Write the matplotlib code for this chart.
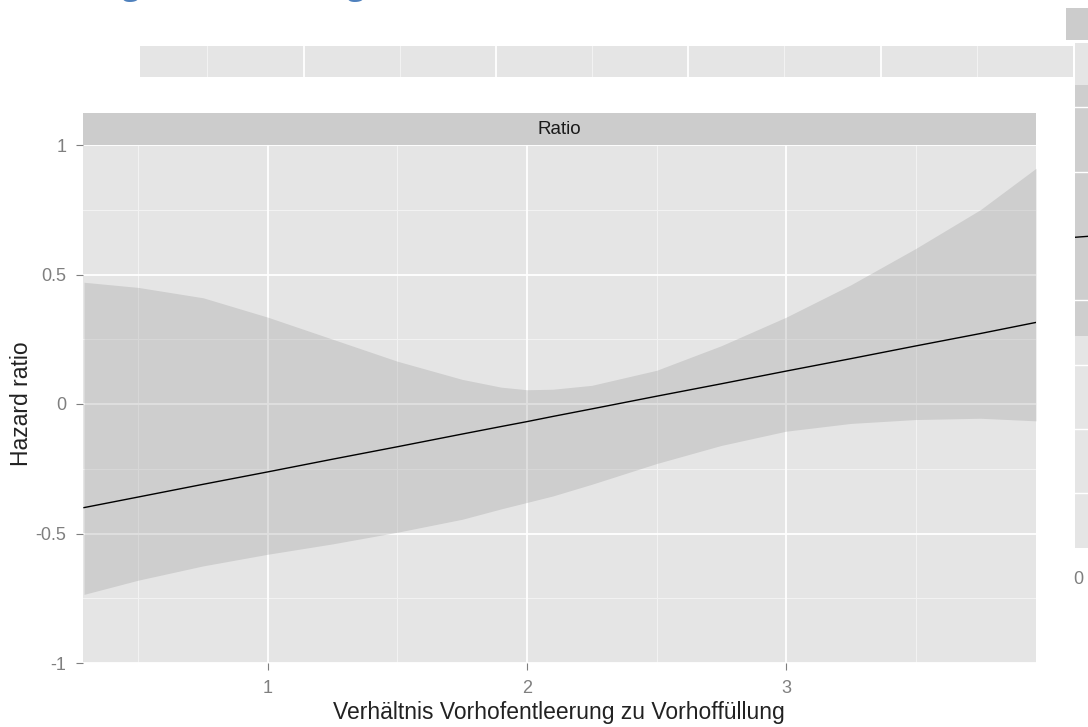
import matplotlib
matplotlib.use('Agg')
import matplotlib.pyplot as plt

plt.rcParams['font.family'] = ['Liberation Sans', 'DejaVu Sans']

W, H = 1088, 727

# smoothed hazard ratio estimate with confidence band
ratio_x = [0.29, 0.5, 0.75, 1.0, 1.25, 1.5, 1.75, 1.9, 2.0, 2.1, 2.25, 2.5, 2.75,
           3.0, 3.25, 3.5, 3.75, 3.965]
hr_fit = [-0.40, -0.359, -0.31, -0.262, -0.213, -0.165, -0.116, -0.087, -0.068, -0.048,
          -0.019, 0.03, 0.078, 0.127, 0.175, 0.224, 0.272, 0.315]
hr_upper = [0.47, 0.45, 0.41, 0.335, 0.25, 0.165, 0.095, 0.065, 0.055, 0.057,
            0.072, 0.13, 0.225, 0.335, 0.46, 0.60, 0.75, 0.91]
hr_lower = [-0.735, -0.68, -0.625, -0.58, -0.54, -0.495, -0.445, -0.405, -0.38, -0.355,
            -0.31, -0.23, -0.16, -0.105, -0.075, -0.06, -0.055, -0.065]

x_ticks = [1, 2, 3]
x_minor = [0.5, 1.5, 2.5, 3.5]
y_ticks = [-1, -0.5, 0, 0.5, 1]
y_tick_labels = ['-1', '-0.5', '0', '0.5', '1']
y_minor = [-0.75, -0.25, 0.25, 0.75]

# neighbouring panels that are only partly in view
top_major = [1, 2, 3, 4]
top_minor = [0.5, 1.5, 2.5, 3.5, 4.5]
right_grid = [1, 2, 4, 5, 6, 7]
right_band = (0.65, 4.55)
right_fit = [3.02, 2.98]

PANEL = '#E5E5E5'
STRIP = '#CCCCCC'
MINOR = '#F2F2F2'
AXIS_GREY = '#7F7F7F'


def rect(left, top, right, bottom):
    return [left / W, 1 - bottom / H, (right - left) / W, (bottom - top) / H]


def blank(ax, color):
    ax.set_facecolor(color)
    for s in ax.spines.values():
        s.set_visible(False)
    ax.set_xticks([])
    ax.set_yticks([])


fig = plt.figure(figsize=(W / 100, H / 100), dpi=100)

# heading above the figure, mostly cut off
fig.text(-37 / W, 1 + 5.5 / H, 'Darstellung der Verteilung', color='#4F81BD',
         fontsize=22, fontweight='bold', family=['Open Sans', 'DejaVu Sans'],
         ha='left', va='baseline')

# strip of the panel above
top = fig.add_axes(rect(140, 46, 1073, 77))
blank(top, PANEL)
top.set_xlim(0.15, 5.0)
top.set_ylim(0, 1)
for v in top_minor:
    top.axvline(v, color=MINOR, lw=0.8)
for v in top_major:
    top.axvline(v, color='white', lw=1.3)

# panel on the right edge
rstrip = fig.add_axes(rect(1066, 8, 1110, 40))
blank(rstrip, STRIP)
right = fig.add_axes(rect(1075, 43, 1110, 548))
blank(right, PANEL)
right.set_xlim(0, 1)
right.set_ylim(7.85, 0)
for v in right_grid:
    right.axhline(v, color='white', lw=1.0)
right.axhspan(*right_band, color='#999999', alpha=0.3, lw=0)
right.plot([0, 1], right_fit, color='black', lw=1.0)
fig.text(1078 / W, 1 - 580 / H, '0', color=AXIS_GREY, fontsize=13,
         ha='center', va='center')

# main panel
ax = fig.add_axes(rect(83, 145, 1036, 663))
ax.set_facecolor(PANEL)
for s in ax.spines.values():
    s.set_visible(False)
ax.set_xlim(0.286, 3.965)
ax.set_ylim(-1, 1)
for v in x_minor:
    ax.axvline(v, color=MINOR, lw=0.8, zorder=0.5)
for v in y_minor:
    ax.axhline(v, color=MINOR, lw=0.8, zorder=0.5)
for v in x_ticks:
    ax.axvline(v, color='white', lw=1.3, zorder=0.6)
for v in y_ticks:
    ax.axhline(v, color='white', lw=1.3, zorder=0.6)

ax.fill_between(ratio_x, hr_lower, hr_upper, color='#999999', alpha=0.3, lw=0, zorder=1)
ax.plot(ratio_x, hr_fit, color='black', lw=1.0, zorder=2)

ax.set_xticks(x_ticks)
ax.set_xticklabels([str(v) for v in x_ticks])
ax.set_yticks(y_ticks)
ax.set_yticklabels(y_tick_labels)
ax.tick_params(length=5, width=0.8, color=AXIS_GREY, labelcolor=AXIS_GREY,
               labelsize=13, pad=7)

# axis titles
fig.text(559 / W, 1 - 712 / H, 'Verhältnis Vorhofentleerung zu Vorhoffüllung',
         fontsize=16.5, color='#222222', ha='center', va='center')
fig.text(22 / W, 1 - 404 / H, 'Hazard ratio', fontsize=16.5, color='#222222',
         rotation=90, ha='center', va='center')

# facet strip
strip = fig.add_axes(rect(83, 113, 1036, 145))
blank(strip, STRIP)
strip.text(0.5, 0.5, 'Ratio', transform=strip.transAxes, ha='center', va='center',
           fontsize=13.5, color='#1A1A1A')

fig.savefig('out.png', dpi=100)
